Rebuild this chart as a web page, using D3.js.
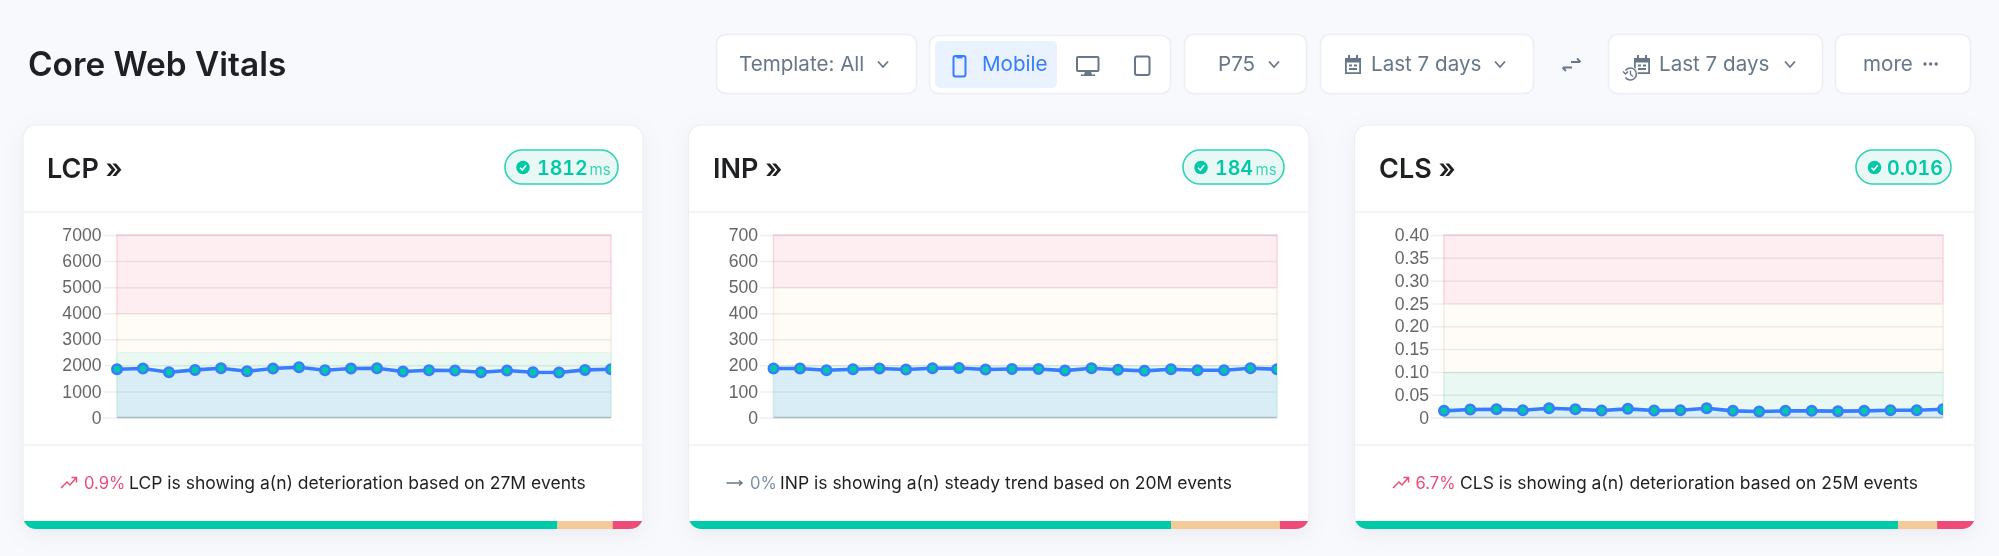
<!DOCTYPE html>
<html>
<head>
<meta charset="utf-8">
<script src="https://cdn.jsdelivr.net/npm/d3@7"></script>
<style>
  html, body { margin: 0; padding: 0; background: #f8f9fc; overflow: hidden; }
  svg { display: block; filter: blur(0.45px); }
  text { font-family: Inter, "Noto Sans", sans-serif; }
  .tick text { font-family: "Liberation Sans", Arial, sans-serif; font-size: 17.6px; fill: #666; }
</style>
</head>
<body>
<svg id="chart" width="1999" height="556"></svg>
<script>
// chart values
const metricNames = ["LCP", "INP", "CLS"];
const lcpValues = [1852, 1877, 1737, 1826, 1890, 1775, 1877, 1928, 1813, 1877, 1890, 1762, 1813, 1800, 1737, 1800, 1737, 1724, 1826, 1852];
const inpValues = [188, 188, 181, 185, 188, 184, 189, 190, 184, 186, 186, 180, 189, 183, 179, 185, 181, 181, 189, 185];
const clsValues = [0.0146, 0.0175, 0.0182, 0.016, 0.0204, 0.0182, 0.0153, 0.019, 0.0153, 0.016, 0.0204, 0.0146, 0.0131, 0.0146, 0.0146, 0.0139, 0.0146, 0.016, 0.016, 0.0182];

const lcpTicks = [0, 1000, 2000, 3000, 4000, 5000, 6000, 7000];
const inpTicks = [0, 100, 200, 300, 400, 500, 600, 700];
const clsTicks = [0, 0.05, 0.1, 0.15, 0.2, 0.25, 0.3, 0.35, 0.4];

// good / needs improvement / poor limits
const lcpBands = [2500, 4000, 7000];
const inpBands = [200, 500, 700];
const clsBands = [0.1, 0.25, 0.4];

// share of events, bottom strip
const lcpShares = [86.2, 8.9, 4.9];
const inpShares = [77.8, 17.5, 4.7];
const clsShares = [87.6, 6.3, 6.1];

const badgeValues = ["1812", "184", "0.016"];
const badgeUnits = ["ms", "ms", ""];
const trendValues = ["0.9%", "0%", "6.7%"];
const trendTexts = [
  "LCP is showing a(n) deterioration based on 27M events",
  "INP is showing a(n) steady trend based on 20M events",
  "CLS is showing a(n) deterioration based on 25M events"
];

const bandFills = ["#e9f8f3", "#fffbf6", "#feeef1"];
const bandEdges = ["#d3efe3", "#f6ebe0", "#f9d5dc"];
const shareColors = ["#00c9a7", "#f5ca99", "#ed4c78"];

const svg = d3.select("#chart");
const gray = "#677788";

// page header
svg.append("text").attr("x", 28).attr("y", 76).text("Core Web Vitals")
  .attr("font-size", 33.4).attr("font-weight", 600).attr("fill", "#1e2022");

function box(x0, x1, y0, y1) {
  svg.append("rect").attr("x", x0 + 0.5).attr("y", y0 + 0.5)
    .attr("width", x1 - x0 - 1).attr("height", y1 - y0 - 1).attr("rx", 9)
    .attr("fill", "#fff").attr("stroke", "#eceef5").attr("stroke-width", 1.5);
}

function label(x, text, color) {
  svg.append("text").attr("x", x).attr("y", 71).text(text)
    .attr("font-size", 20.6).attr("fill", color || gray);
}

function chevron(x) {
  svg.append("path").attr("d", `M${x - 5},61.5 L${x},67 L${x + 5},61.5`)
    .attr("fill", "none").attr("stroke", gray).attr("stroke-width", 1.8);
}

function calendar(x) {
  const g = svg.append("g").attr("transform", `translate(${x},55)`)
    .attr("fill", gray);
  g.append("path").attr("fill-rule", "evenodd")
    .attr("d", "M1,3H17V19H1Z M2.8,7.5V17.2H15.2V7.5Z");
  g.append("rect").attr("x", 4).attr("y", 0).attr("width", 2).attr("height", 4);
  g.append("rect").attr("x", 12).attr("y", 0).attr("width", 2).attr("height", 4);
  g.append("rect").attr("x", 5).attr("y", 9.5).attr("width", 3).attr("height", 2);
  g.append("rect").attr("x", 10).attr("y", 9.5).attr("width", 3).attr("height", 2);
  g.append("rect").attr("x", 5).attr("y", 13).attr("width", 8).attr("height", 2);
}

// toolbar
box(716, 917, 34, 94);
label(739, "Template: All");
chevron(883);

box(929, 1171, 35, 94);
svg.append("rect").attr("x", 935).attr("y", 41).attr("width", 122).attr("height", 47)
  .attr("rx", 5).attr("fill", "#eaf1ff");
svg.append("rect").attr("x", 953.5).attr("y", 56).attr("width", 12).attr("height", 20.5)
  .attr("rx", 2).attr("fill", "none").attr("stroke", "#377dff").attr("stroke-width", 2);
svg.append("rect").attr("x", 956.5).attr("y", 56).attr("width", 6).attr("height", 2.4).attr("fill", "#377dff");
label(982, "Mobile", "#377dff");
svg.append("rect").attr("x", 1077).attr("y", 57).attr("width", 21.5).attr("height", 14)
  .attr("rx", 1).attr("fill", "none").attr("stroke", gray).attr("stroke-width", 2);
svg.append("path").attr("d", "M1085,71.5H1091L1092,74.5H1095V76H1081V74.5H1084Z").attr("fill", gray);
svg.append("rect").attr("x", 1135).attr("y", 56.5).attr("width", 14.5).attr("height", 18.5)
  .attr("rx", 2).attr("fill", "none").attr("stroke", gray).attr("stroke-width", 2);

box(1184, 1307, 34, 94);
label(1218, "P75");
chevron(1274);

box(1320, 1534, 34, 94);
calendar(1344);
label(1371, "Last 7 days");
chevron(1500);

// swap arrows
svg.append("path").attr("fill", "none").attr("stroke", gray).attr("stroke-width", 1.8)
  .attr("d", "M1571,62H1580M1577,58.5L1580.5,62 M1572,67.5H1563M1566,71L1562.5,67.5");

box(1608, 1823, 34, 94);
calendar(1633);
svg.append("circle").attr("cx", 1630.5).attr("cy", 74).attr("r", 7.5).attr("fill", "#fff");
svg.append("path").attr("fill", "none").attr("stroke", gray).attr("stroke-width", 1.5)
  .attr("d", "M1625.5,70.5A6,6 0 1 1 1625.5,77.5M1623,71.5L1625.5,74L1628,71.5");
svg.append("path").attr("d", "M1630.5,70.5V74.5L1633,76.5").attr("fill", "none")
  .attr("stroke", gray).attr("stroke-width", 1.3);
label(1659, "Last 7 days");
chevron(1790);

box(1835, 1971, 34, 94);
label(1863, "more");
svg.selectAll(".dot").data([0, 1, 2]).join("circle").attr("class", "dot")
  .attr("cx", d => 1925 + d * 5.6).attr("cy", 64).attr("r", 1.7).attr("fill", gray);

// cards, one per metric
const shadow = svg.append("defs").append("filter").attr("id", "shadow")
  .attr("x", "-5%").attr("y", "-5%").attr("width", "110%").attr("height", "115%");
shadow.append("feDropShadow").attr("dx", 0).attr("dy", 6).attr("stdDeviation", 9)
  .attr("flood-color", "#8c98a4").attr("flood-opacity", 0.12);

function drawCard(p) {
  const i = p.index;
  const w = p.x1 - p.x0;
  const top = 125, bottom = 529;

  const clipId = "card" + i;
  svg.select("defs").append("clipPath").attr("id", clipId)
    .append("rect").attr("x", p.x0).attr("y", top).attr("width", w)
    .attr("height", bottom - top).attr("rx", 13);

  svg.append("rect").attr("x", p.x0).attr("y", top).attr("width", w)
    .attr("height", bottom - top).attr("rx", 13).attr("fill", "#fff")
    .attr("stroke", "#eceef5").attr("stroke-width", 1.2).attr("filter", "url(#shadow)");

  svg.append("line").attr("x1", p.x0).attr("x2", p.x1).attr("y1", 212).attr("y2", 212)
    .attr("stroke", "#eff1f6").attr("stroke-width", 1.5);
  svg.append("line").attr("x1", p.x0).attr("x2", p.x1).attr("y1", 445).attr("y2", 445)
    .attr("stroke", "#eff1f6").attr("stroke-width", 1.5);

  // header
  svg.append("text").attr("x", p.titleX).attr("y", 178)
    .text(metricNames[i] + " »").attr("font-size", 27).attr("font-weight", 600).attr("fill", "#1e2022");

  svg.append("rect").attr("x", p.badge[0]).attr("y", 150)
    .attr("width", p.badge[1] - p.badge[0]).attr("height", 34).attr("rx", 17)
    .attr("fill", "#e9f8f5").attr("stroke", "#2ed3b4").attr("stroke-width", 1.6);
  svg.append("circle").attr("cx", p.check).attr("cy", 167.5).attr("r", 6.8).attr("fill", "#00c9a7");
  svg.append("path").attr("d", `M${p.check - 3},167.7 L${p.check - 0.8},170 L${p.check + 3.2},165.2`)
    .attr("fill", "none").attr("stroke", "#fff").attr("stroke-width", 1.5);
  svg.append("text").attr("x", p.valueX).attr("y", 174.5).text(badgeValues[i])
    .attr("font-size", 19.6).attr("font-weight", 600).attr("fill", "#00c9a7")
    .style("font-variant-numeric", "tabular-nums");
  if (badgeUnits[i]) {
    svg.append("text").attr("x", p.unitX).attr("y", 174.5).text(badgeUnits[i])
      .attr("font-size", 15).attr("fill", "#3dd3b8");
  }

  // plot
  const y = d3.scaleLinear().domain([0, p.ticks[p.ticks.length - 1]]).range([417.5, 235]);
  const x = d3.scaleLinear().domain([0, p.values.length - 1]).range([p.plot0, p.plot1]);

  let low = 0;
  p.bands.forEach((high, b) => {
    svg.append("rect").attr("x", p.plot0).attr("width", p.plot1 - p.plot0)
      .attr("y", y(high)).attr("height", y(low) - y(high))
      .attr("fill", bandFills[b]);
    svg.append("path")
      .attr("d", `M${p.plot0},${y(low)}V${y(high)}H${p.plot1}V${y(low)}`)
      .attr("fill", "none").attr("stroke", bandEdges[b]).attr("stroke-width", 1.5);
    low = high;
  });

  const axis = d3.axisLeft(y).tickValues(p.ticks).tickSize(p.plot1 - p.axisX).tickPadding(2)
    .tickFormat(p.format);
  const axisG = svg.append("g").attr("transform", `translate(${p.plot1},0)`).call(axis);
  axisG.select(".domain").remove();
  axisG.selectAll(".tick line").attr("stroke", "#000").attr("stroke-opacity", 0.07).attr("stroke-width", 1.5);
  axisG.selectAll(".tick text").attr("x", p.axisX - p.plot1 - 2);

  const area = d3.area().x((d, k) => x(k)).y0(y(0)).y1(d => y(d));
  const line = d3.line().x((d, k) => x(k)).y(d => y(d));

  svg.append("path").datum(p.values).attr("d", area).attr("fill", "#94c1ff").attr("fill-opacity", 0.2);
  svg.append("line").attr("x1", p.plot0).attr("x2", p.plot1).attr("y1", y(0)).attr("y2", y(0))
    .attr("stroke", "#a9bcc6").attr("stroke-width", 1.5);
  svg.append("path").datum(p.values).attr("d", line).attr("fill", "none")
    .attr("stroke", "#377dff").attr("stroke-width", 3.6);

  const clipPlot = "plot" + i;
  svg.select("defs").append("clipPath").attr("id", clipPlot)
    .append("rect").attr("x", p.plot0 - 8).attr("y", 225).attr("width", p.plot1 - p.plot0 + 8).attr("height", 200);
  svg.append("g").attr("clip-path", `url(#${clipPlot})`)
    .selectAll("circle").data(p.values).join("circle")
    .attr("cx", (d, k) => x(k)).attr("cy", d => y(d)).attr("r", 4.7)
    .attr("fill", "#00c9a7").attr("stroke", "#377dff").attr("stroke-width", 2.6);

  // trend line under the plot
  const ty = 489;
  const trendColor = p.up ? "#ed4c78" : "#7c8fa6";
  if (p.up) {
    const ix = p.iconX;
    svg.append("path").attr("fill", "none").attr("stroke", trendColor).attr("stroke-width", 1.5)
      .attr("d", `M${ix},${ty - 1} L${ix + 6},${ty - 7} L${ix + 9},${ty - 4} L${ix + 15},${ty - 11} M${ix + 10.5},${ty - 11.5} H${ix + 15.5} V${ty - 6.5}`);
  } else {
    const ix = p.iconX;
    svg.append("path").attr("fill", "none").attr("stroke", "#677788").attr("stroke-width", 1.5)
      .attr("d", `M${ix},${ty - 6} H${ix + 15.5} M${ix + 12.5},${ty - 8.5} L${ix + 15.5},${ty - 6} L${ix + 12.5},${ty - 3.5}`);
  }
  svg.append("text").attr("x", p.pctX).attr("y", ty).text(trendValues[i])
    .attr("font-size", 16.6).attr("fill", trendColor);
  svg.append("text").attr("x", p.textX).attr("y", ty).text(trendTexts[i])
    .attr("font-size", 17.5).attr("fill", "#1e2022");

  // share strip at the bottom of the card
  const s = d3.scaleLinear().domain([0, d3.sum(p.shares)]).range([p.x0, p.x1]);
  let run = 0;
  const strip = svg.append("g").attr("clip-path", `url(#${clipId})`);
  p.shares.forEach((v, k) => {
    strip.append("rect").attr("x", s(run)).attr("y", 521)
      .attr("width", s(run + v) - s(run)).attr("height", 8).attr("fill", shareColors[k]);
    run += v;
  });
}

drawCard({ index: 0, x0: 23, x1: 643, titleX: 47, badge: [505, 618], check: 523, valueX: 537, unitX: 589.5,
  plot0: 117, plot1: 611, axisX: 103.5, values: lcpValues, ticks: lcpTicks, bands: lcpBands, shares: lcpShares,
  format: d3.format("d"), up: true, iconX: 61, pctX: 84, textX: 129 });
drawCard({ index: 1, x0: 688.5, x1: 1309, titleX: 713, badge: [1183, 1284], check: 1201, valueX: 1215, unitX: 1255.5,
  plot0: 773.5, plot1: 1277, axisX: 760, values: inpValues, ticks: inpTicks, bands: inpBands, shares: inpShares,
  format: d3.format("d"), up: false, iconX: 726.5, pctX: 750, textX: 780 });
drawCard({ index: 2, x0: 1354.5, x1: 1975, titleX: 1379, badge: [1856, 1951], check: 1874.5, valueX: 1887, unitX: 0,
  plot0: 1444, plot1: 1943, axisX: 1431, values: clsValues, ticks: clsTicks, bands: clsBands, shares: clsShares,
  format: d => d === 0 ? "0" : d3.format(".2f")(d), up: true, iconX: 1393, pctX: 1415.5, textX: 1460 });
</script>
</body>
</html>
